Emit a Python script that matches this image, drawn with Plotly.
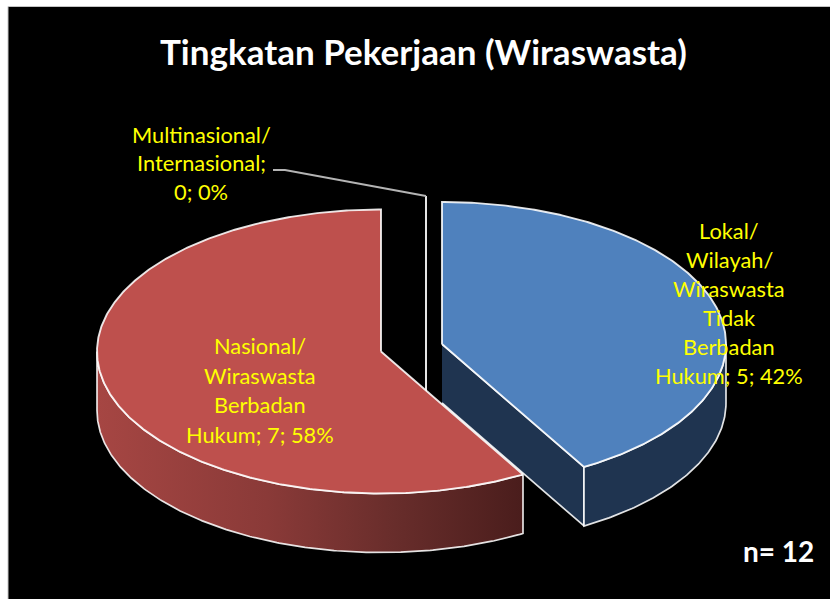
import numpy as np
import plotly.graph_objects as go

# ---- data ----
categories = ["Lokal/ Wilayah/ Wiraswasta Tidak Berbadan Hukum",
              "Nasional/ Wiraswasta Berbadan Hukum",
              "Multinasional/ Internasional"]
values = [5, 7, 0]
label_lines = [
    ["Lokal/", "Wilayah/", "Wiraswasta", "Tidak", "Berbadan", "Hukum; 5; 42%"],
    ["Nasional/", "Wiraswasta", "Berbadan", "Hukum; 7; 58%"],
    ["Multinasional/", "Internasional;", "0; 0%"],
]
title_text = "Tingkatan Pekerjaan (Wiraswasta)"
note_text = "n= 12"

# ---- styling / layout ----
W, H = 830, 599
RX, RY, DEPTH = 284, 142, 59
centres = [(442, 344), (381, 351.5), (426, 338)]
top_fill = ["#4F81BD", "#BE504D", "#9BBB59"]
wall_fill = ["#1F3450", None, None]
edge = "rgba(255,255,255,0.88)"
YELLOW = "#FFFF00"
FONT = "Lato"
label_pos = [(729, 230), (260, 345.5), (201, 134)]
label_pitch = [29.1, 29.6, 28.5]

fig = go.Figure()


def point(c, deg, dz=0.0):
    t = np.radians(deg)
    return c[0] + RX * np.sin(t), c[1] - RY * np.cos(t) + dz


def arc(c, a, b, dz=0.0):
    n = max(2, int(abs(b - a) * 2) + 1)
    th = np.linspace(a, b, n)
    return point(c, th, dz)


def poly(x, y, **kw):
    fig.add_trace(go.Scatter(x=list(x), y=list(y), mode="lines", fill="toself",
                             hoverinfo="skip", showlegend=False, **kw))


total = sum(values)
starts = np.concatenate([[0], np.cumsum(values)[:-1]]) / total * 360
ends = np.cumsum(values) / total * 360

# zero slice: only its edge remains (drawn first, lies behind the others)
c = centres[2]
xt, yt = point(c, 0)
fig.add_trace(go.Scatter(x=[xt, c[0], c[0]], y=[yt, c[1], c[1] + DEPTH], mode="lines",
                         line=dict(color="white", width=1.8), hoverinfo="skip", showlegend=False))
# leader line of the zero slice
fig.add_trace(go.Scatter(x=[273, 285, xt], y=[170, 170, yt], mode="lines",
                         line=dict(color="#B4B4B4", width=1.8), hoverinfo="skip", showlegend=False))

# blue slice: cut face, outer wall, top
c, a, b = centres[0], starts[0], ends[0]
ex, ey = point(c, b)
poly([c[0], ex, ex, c[0]], [c[1], ey, ey + DEPTH, c[1] + DEPTH],
     fillcolor=wall_fill[0], line=dict(color=edge, width=1.7))
x1, y1 = arc(c, 90, b)
x2, y2 = arc(c, b, 90, DEPTH)
poly(np.r_[x1, x2, x1[0]], np.r_[y1, y2, y1[0]],
     fillcolor=wall_fill[0], line=dict(color=edge, width=1.7))
xa, ya = arc(c, a, b)
poly(np.r_[c[0], xa, c[0]], np.r_[c[1], ya, c[1]],
     fillcolor=top_fill[0], line=dict(color=edge, width=1.9))

# red slice: outer wall with gradient, top
c, a, b = centres[1], starts[1], ends[1]
x1, y1 = arc(c, a, 270)
x2, y2 = arc(c, 270, a, DEPTH)
poly(np.r_[x1, x2, x1[0]], np.r_[y1, y2, y1[0]],
     fillgradient=dict(type="horizontal",
                       colorscale=[[0, "#A64643"], [0.4, "#8A3A38"], [0.7, "#682D2B"], [1, "#4A1D1C"]]),
     line=dict(color=edge, width=1.7))
xa, ya = arc(c, a, b)
poly(np.r_[c[0], xa, c[0]], np.r_[c[1], ya, c[1]],
     fillcolor=top_fill[1], line=dict(color=edge, width=1.9))

ann = []
for lines, (lx, ly), pitch in zip(label_lines, label_pos, label_pitch):
    for i, s in enumerate(lines):
        ann.append(dict(x=lx, y=ly + i * pitch, text=s, showarrow=False, xref="x", yref="y",
                        xanchor="center", yanchor="middle",
                        font=dict(family=FONT, size=21.8, color=YELLOW)))
ann.append(dict(x=423.5, y=50.5, text=f"<b>{title_text}</b>", showarrow=False, xref="x", yref="y",
                xanchor="center", yanchor="middle", font=dict(family=FONT, size=35, color="white")))
ann.append(dict(x=778, y=550.5, text=f"<b>{note_text}</b>", showarrow=False, xref="x", yref="y",
                xanchor="center", yanchor="middle", font=dict(family=FONT, size=28, color="white")))

fig.update_layout(
    width=W, height=H, margin=dict(l=0, r=0, t=0, b=0, pad=0, autoexpand=False),
    paper_bgcolor="white", plot_bgcolor="white", showlegend=False,
    xaxis=dict(range=[0, W], visible=False, fixedrange=True),
    yaxis=dict(range=[H, 0], visible=False, fixedrange=True),
    annotations=ann,
    shapes=[dict(type="rect", xref="x", yref="y", x0=8, y0=6.5, x1=W + 5, y1=H + 5,
                 fillcolor="black", line=dict(color="#C4C4C4", width=1), layer="below")],
)
fig.write_html("out.html", config=dict(displayModeBar=False),
               post_script="document.body.style.margin='0';document.documentElement.style.overflow='hidden';")
